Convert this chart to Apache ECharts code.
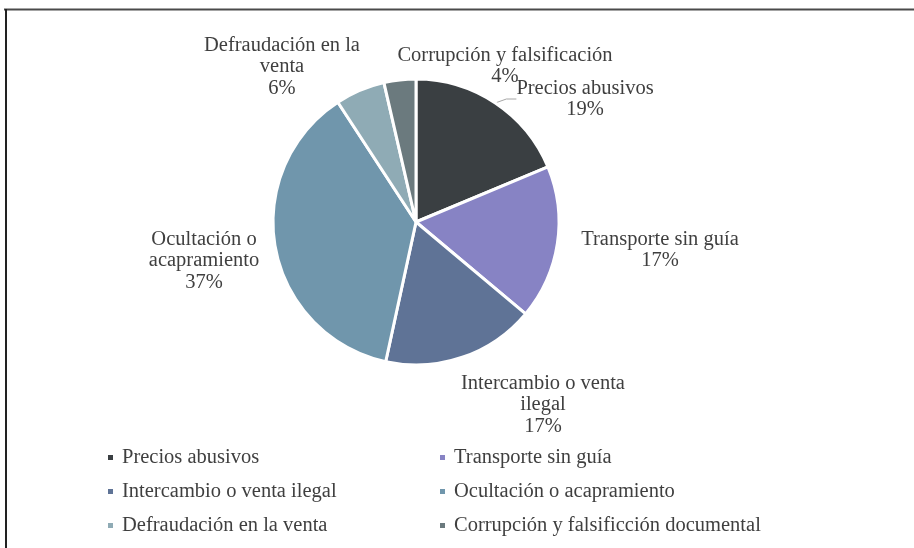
<!DOCTYPE html>
<html>
<head>
<meta charset="utf-8">
<script src="https://cdn.jsdelivr.net/npm/echarts@6/dist/echarts.min.js"></script>
<style>
  html, body { margin: 0; padding: 0; background: #fff; }
  #chart { width: 914px; height: 548px; }
</style>
</head>
<body>
<div id="chart"></div>
<script>
var legendNames = ['Precios abusivos', 'Transporte sin guía', 'Intercambio o venta ilegal',
  'Ocultación o acapramiento', 'Defraudación en la venta', 'Corrupción y falsificción documental'];
var labelNames = ['Precios abusivos', 'Transporte sin guía', 'Intercambio o venta\nilegal',
  'Ocultación o\nacapramiento', 'Defraudación en la\nventa', 'Corrupción y falsificación'];
// share of cases (%); labels round to 19/17/17/37/6/4
var shares = [18.7, 17.4, 17.3, 37.4, 5.6, 3.6];
var colors = ['#3a3f42', '#8783c4', '#5f7396', '#7096ac', '#8fabb5', '#6b7a7e'];

var chart = echarts.init(document.getElementById('chart'));

var txt = { fontFamily: 'Liberation Serif', fontSize: 20.5, color: '#3f3f3f' };

// where the excel-like "best fit" put each label (block centre)
var labelSpots = [[585, 99], [660, 250], [543, 405], [204, 261], [282, 67], [505, 66]];

var pieData = shares.map(function (v, i) {
  return {
    name: legendNames[i],
    value: v,
    itemStyle: { color: colors[i] },
    labelLine: { show: i === 0 }
  };
});

function legendCol(names, left) {
  return {
    orient: 'vertical',
    left: left,
    top: 442,
    itemWidth: 7,
    itemHeight: 7,
    itemGap: 13,
    icon: 'rect',
    textStyle: {
      fontFamily: txt.fontFamily,
      fontSize: txt.fontSize,
      color: txt.color,
      padding: [0, 0, 0, 3]
    },
    data: names
  };
}

var option = {
  animation: false,
  legend: [
    legendCol([legendNames[0], legendNames[2], legendNames[4]], 101),
    legendCol([legendNames[1], legendNames[3], legendNames[5]], 433)
  ],
  graphic: [
    { type: 'line', shape: { x1: 4, y1: 9.5, x2: 914, y2: 9.5 }, style: { stroke: '#4a4a4a', lineWidth: 2 } },
    { type: 'line', shape: { x1: 6, y1: 9, x2: 6, y2: 548 }, style: { stroke: '#222', lineWidth: 2 } }
  ],
  series: [{
    type: 'pie',
    center: [416, 222],
    radius: 143,
    startAngle: 90,
    clockwise: true,
    percentPrecision: 0,
    itemStyle: { borderColor: '#fff', borderWidth: 3 },
    label: {
      show: true,
      position: 'outside',
      fontFamily: txt.fontFamily,
      fontSize: txt.fontSize,
      lineHeight: 21.5,
      color: txt.color,
      formatter: function (p) {
        return labelNames[p.dataIndex] + '\n' + p.percent + '%';
      }
    },
    labelLayout: function (p) {
      var s = labelSpots[p.dataIndex];
      return { x: s[0], y: s[1], align: 'center', verticalAlign: 'middle' };
    },
    labelLine: {
      length: 6,
      length2: 10,
      lineStyle: { color: '#a6a6a6', width: 1 }
    },
    data: pieData
  }]
};
chart.setOption(option);
</script>
</body>
</html>
